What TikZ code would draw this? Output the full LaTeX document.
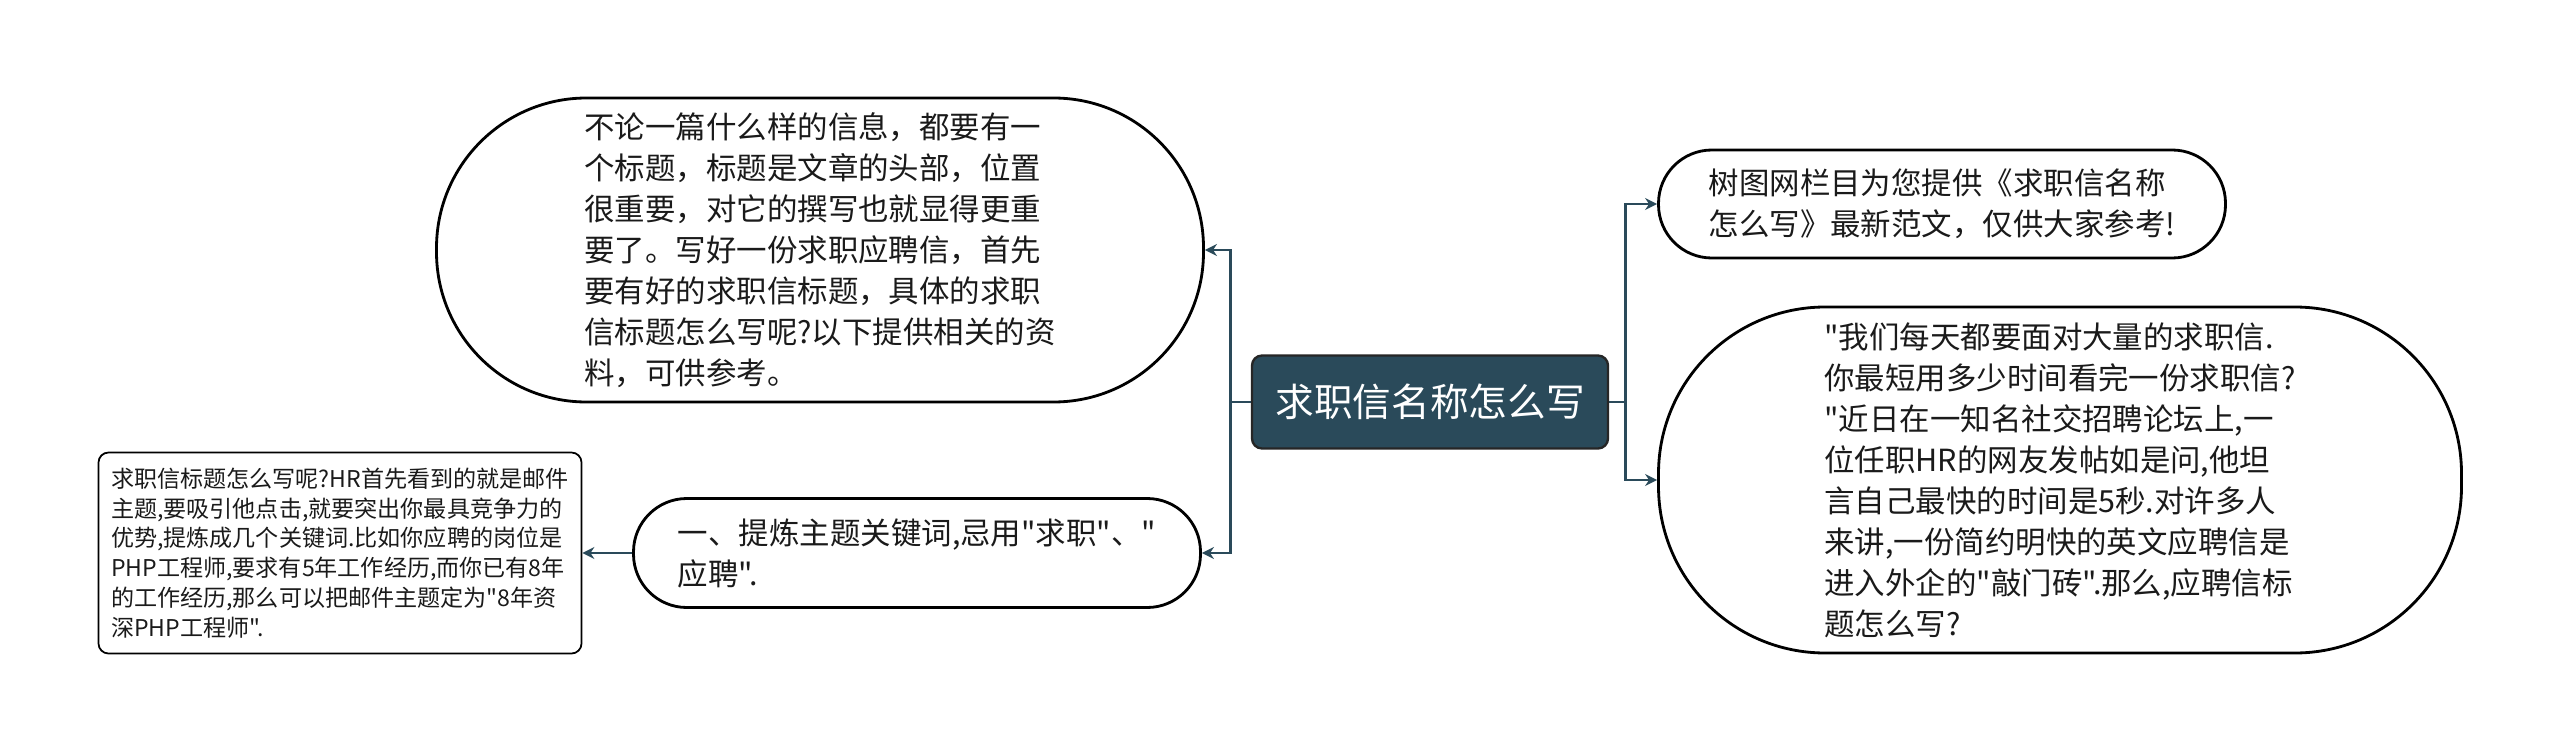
\documentclass[tikz,border=0pt]{standalone}
\usepackage{fontspec}
\usetikzlibrary{arrows.meta}
\newfontfamily\cjk{Noto Sans CJK SC}
\definecolor{teal}{HTML}{2A4A5A}
\definecolor{ink}{HTML}{1A1A1A}
\tikzset{
  bubble/.style={draw=black, line width=2.4pt, fill=white, inner sep=0pt, align=left,
    text=ink, font=\cjk\fontsize{26}{35}\selectfont},
  smallbox/.style={draw=black, line width=1.5pt, fill=white, inner sep=0pt, align=left,
    rounded corners=3mm, text=ink, font=\cjk\fontsize{19.7}{25.4}\selectfont},
  rootbox/.style={draw=black!85, line width=2pt, fill=teal, inner sep=0pt,
    rounded corners=3mm, text=white, font=\cjk\fontsize{33}{40}\selectfont},
  link/.style={draw=teal, line width=2.4pt, -{Stealth[length=3.6mm,width=3.6mm]}}
}
\begin{document}
\begin{tikzpicture}[x=0.3mm,y=-0.3mm]
\useasboundingbox[fill=white] (0,0) rectangle (2560,751);

\node[rootbox, minimum width=106.8mm, minimum height=27.9mm] (c) at (1430,402) {求职信名称怎么写};

\node[bubble, minimum width=230.1mm, minimum height=91.2mm, rounded corners=45mm] (tl) at (820,250)
{不论一篇什么样的信息，都要有一\\
个标题，标题是文章的头部，位置\\
很重要，对它的撰写也就显得更重\\
要了。写好一份求职应聘信，首先\\
要有好的求职信标题，具体的求职\\
信标题怎么写呢?以下提供相关的资\\
料，可供参考。};

\node[bubble, minimum width=170.1mm, minimum height=32.7mm, rounded corners=16mm] (bl) at (917,553)
{一、提炼主题关键词,忌用"求职"、"\\
应聘".};

\node[smallbox, minimum width=144.9mm, minimum height=60.3mm] (sm) at (340,553)
{求职信标题怎么写呢?HR首先看到的就是邮件\\
主题,要吸引他点击,就要突出你最具竞争力的\\
优势,提炼成几个关键词.比如你应聘的岗位是\\
PHP工程师,要求有5年工作经历,而你已有8年\\
的工作经历,那么可以把邮件主题定为"8年资\\
深PHP工程师".};

\node[bubble, minimum width=170.1mm, minimum height=32.4mm, rounded corners=16mm] (rt) at (1942,204)
{树图网栏目为您提供《求职信名称\\
怎么写》最新范文，仅供大家参考!};

\node[bubble, minimum width=240.9mm, minimum height=103.8mm, rounded corners=50mm] (rb) at (2060,480)
{"我们每天都要面对大量的求职信.\\
你最短用多少时间看完一份求职信?\\
"近日在一知名社交招聘论坛上,一\\
位任职HR的网友发帖如是问,他坦\\
言自己最快的时间是5秒.对许多人\\
来讲,一份简约明快的英文应聘信是\\
进入外企的"敲门砖".那么,应聘信标\\
题怎么写?};

\draw[link] (c.west) -- ++(-20,0) |- (tl.east);
\draw[link] (c.west) -- ++(-20,0) |- (bl.east);
\draw[link] (bl.west) -- (sm.east);
\draw[link] (c.east) -- ++(16,0) |- (rt.west);
\draw[link] (c.east) -- ++(16,0) |- (rb.west);
\end{tikzpicture}
\end{document}
